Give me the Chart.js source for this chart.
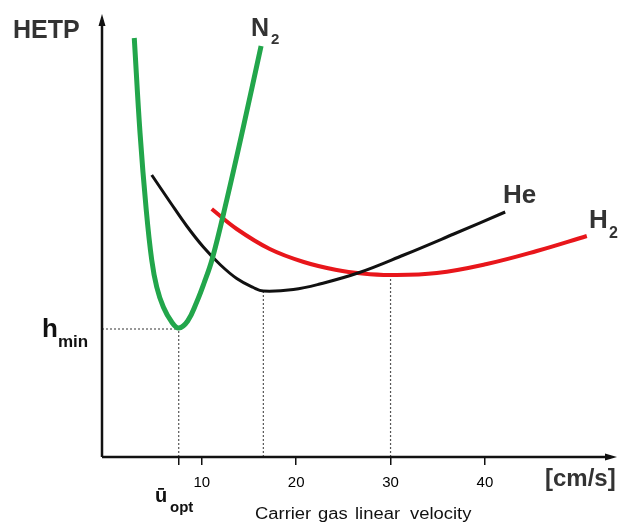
<!DOCTYPE html>
<html>
<head>
<meta charset="utf-8">
<script src="https://cdn.jsdelivr.net/npm/chart.js@4"></script>
<style>
  html, body { margin: 0; padding: 0; background: #fff; }
  #wrap { width: 621px; height: 524px; position: relative; }
</style>
</head>
<body>
<div id="wrap"><canvas id="vanDeemter"></canvas></div>
<script>
// HETP vs carrier gas linear velocity (HETP in arbitrary units)
const n2X = [2.84, 3.45, 4.1, 4.69, 5.22, 5.92, 6.81, 7.55, 8.5, 9.46, 10.2, 11.1, 12.64, 14.4, 16.28];
const n2Y = [41.9, 32.4, 24.8, 19.7, 17.0, 15.0, 13.5, 12.9, 13.6, 15.5, 17.3, 19.8, 25.7, 33.0, 41.1];

const heX = [4.69, 6.63, 8.4, 10.16, 11.93, 13.7, 15.46, 16.52, 19.7, 22.5, 26.7, 31.4, 36.7, 42.15];
const heY = [28.2, 25.5, 23.1, 21.0, 19.25, 17.85, 16.95, 16.6, 16.75, 17.3, 18.45, 20.2, 22.3, 24.5];

const h2X = [11.05, 13.7, 17.2, 20.8, 24.3, 27.0, 30.0, 34.9, 40.2, 45.5, 50.8];
const h2Y = [24.8, 22.8, 20.8, 19.5, 18.7, 18.35, 18.2, 18.4, 19.3, 20.6, 22.1];

// optimum velocity / minimum plate height of each gas (N2, He, H2)
const optX = [7.55, 16.52, 30];
const optY = [12.8, 16.6, 18.2];

const xTicks = [10, 20, 30, 40];
const xMin = -0.58;
const xMax = 54;

const toPoints = (xs, ys) => xs.map((x, i) => ({ x: x, y: ys[i] }));

const guideStyle = {
    borderColor: '#555',
    borderWidth: 1.2,
    borderDash: [2, 2],
    pointRadius: 0,
    tension: 0
};

const guides = [
    Object.assign({ data: [{ x: xMin, y: optY[0] }, { x: optX[0], y: optY[0] }] }, guideStyle)
].concat(optX.map((x, i) => Object.assign({ data: [{ x: x, y: 0 }, { x: x, y: optY[i] }] }, guideStyle)));

const FONT = '"Liberation Sans", Arial, sans-serif';

function label(ctx, text, x, y, size, weight, color) {
    ctx.save();
    ctx.font = weight + ' ' + size + 'px ' + FONT;
    ctx.fillStyle = color;
    ctx.textBaseline = 'alphabetic';
    ctx.textAlign = 'left';
    ctx.fillText(text, x, y);
    ctx.restore();
}

// axes with arrow heads plus the hand-placed annotations
const axesAndText = {
    id: 'axesAndText',
    afterDraw(chart) {
        const ctx = chart.ctx;
        const xs = chart.scales.x;
        const ys = chart.scales.y;
        const x0 = xs.getPixelForValue(xMin);
        const y0 = ys.getPixelForValue(0);
        const top = chart.chartArea.top;
        const right = chart.chartArea.right;

        ctx.save();
        ctx.strokeStyle = '#111';
        ctx.fillStyle = '#111';
        ctx.lineWidth = 2.5;
        ctx.beginPath();
        ctx.moveTo(x0, y0);
        ctx.lineTo(x0, top + 6);
        ctx.moveTo(x0, y0);
        ctx.lineTo(right - 6, y0);
        ctx.stroke();
        ctx.beginPath();
        ctx.moveTo(x0, top);
        ctx.lineTo(x0 - 3.5, top + 12);
        ctx.lineTo(x0 + 3.5, top + 12);
        ctx.closePath();
        ctx.fill();
        ctx.beginPath();
        ctx.moveTo(right, y0);
        ctx.lineTo(right - 12, y0 - 3.5);
        ctx.lineTo(right - 12, y0 + 3.5);
        ctx.closePath();
        ctx.fill();
        ctx.restore();

        label(ctx, 'HETP', 13, 38, 25, 'bold', '#333');
        label(ctx, 'N', 251, 36, 25, 'bold', '#333');
        label(ctx, '2', 271, 44, 15, 'bold', '#333');
        label(ctx, 'He', 503, 203, 26, 'bold', '#333');
        label(ctx, 'H', 589, 228, 26, 'bold', '#333');
        label(ctx, '2', 609, 238, 16, 'bold', '#333');
        label(ctx, 'h', 42, 337, 26, 'bold', '#111');
        label(ctx, 'min', 58, 347, 17, 'bold', '#111');
        label(ctx, '\u016b', 155, 502, 20, 'bold', '#111');
        label(ctx, 'opt', 170, 512, 15, 'bold', '#111');
        label(ctx, '[cm/s]', 545, 486, 24, 'bold', '#333');
        ctx.save();
        ctx.font = '16px ' + FONT;
        const words = ['Carrier', 'gas', 'linear', 'velocity'];
        const wordX = [255, 318, 355, 410];
        ctx.translate(0, 519);
        words.forEach((w, i) => {
            ctx.save();
            ctx.translate(wordX[i], 0);
            ctx.scale(1.15, 1);
            ctx.fillStyle = '#111';
            ctx.fillText(w, 0, 0);
            ctx.restore();
        });
        ctx.restore();
    }
};

new Chart(document.getElementById('vanDeemter'), {
    type: 'line',
    data: {
        datasets: [
            {
                label: 'N2',
                data: toPoints(n2X, n2Y),
                borderColor: '#22a64b',
                borderWidth: 5,
                pointRadius: 0,
                tension: 0.4
            },
            {
                label: 'He',
                data: toPoints(heX, heY),
                borderColor: '#111',
                borderWidth: 3,
                pointRadius: 0,
                tension: 0.4
            },
            {
                label: 'H2',
                data: toPoints(h2X, h2Y),
                borderColor: '#e8161b',
                borderWidth: 4,
                pointRadius: 0,
                tension: 0.4
            }
        ].concat(guides)
    },
    options: {
        responsive: true,
        maintainAspectRatio: false,
        animation: false,
        layout: { padding: { left: 102, right: 4, top: 14, bottom: 0 } },
        plugins: {
            legend: { display: false },
            tooltip: { enabled: false }
        },
        scales: {
            x: {
                type: 'linear',
                min: xMin,
                max: xMax,
                afterFit: function (scale) { scale.height = 67; },
                afterBuildTicks: function (scale) {
                    scale.ticks = [optX[0]].concat(xTicks).map(v => ({ value: v }));
                },
                ticks: {
                    autoSkip: false,
                    maxRotation: 0,
                    padding: 9,
                    color: '#000',
                    font: { family: FONT, size: 15 },
                    callback: v => xTicks.includes(v) ? String(v) : ''
                },
                grid: {
                    drawOnChartArea: false,
                    drawTicks: true,
                    tickLength: 8,
                    color: '#111',
                    lineWidth: 1.5
                },
                border: { display: false }
            },
            y: {
                display: false,
                min: 0,
                max: 44.3
            }
        }
    },
    plugins: [axesAndText]
});
</script>
</body>
</html>
